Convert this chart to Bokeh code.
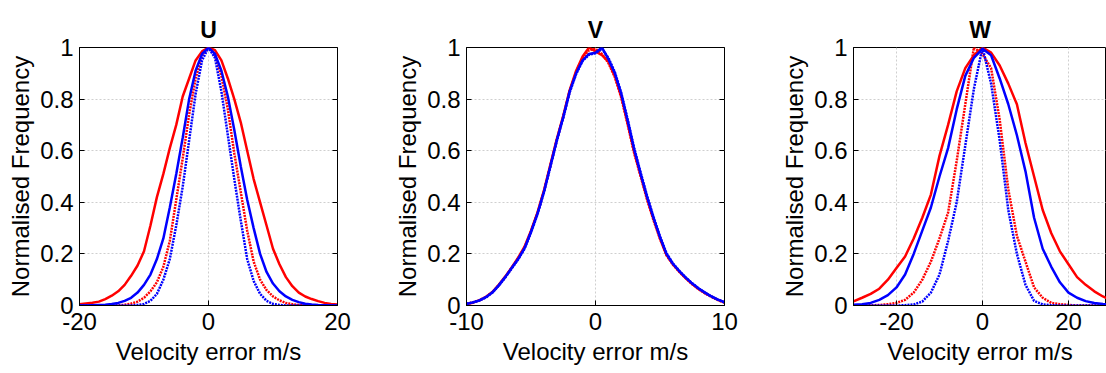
from bokeh.plotting import figure
from bokeh.layouts import row
from bokeh.models import Range1d, FixedTicker, LinearAxis, CustomJSTickFormatter
from bokeh.embed import file_html
from bokeh.resources import INLINE

FONT = "Liberation Sans"
RED = "#ff0000"
BLUE = "#0000ff"

titles = ["U", "V", "W"]
x_label = "Velocity error m/s"
y_label = "Normalised Frequency"
y_ticks = [0, 0.2, 0.4, 0.6, 0.8, 1]

# ---- U panel ----
u_x = [-20, -19, -18, -17, -16, -15, -14, -13, -12, -11, -10, -9, -8, -7, -6, -5, -4, -3, -2, -1,
       0, 1, 2, 3, 4, 5, 6, 7, 8, 9, 10, 11, 12, 13, 14, 15, 16, 17, 18, 19, 20]
u_red_solid = [0.005, 0.008, 0.011, 0.015, 0.025, 0.038, 0.055, 0.08, 0.115, 0.155, 0.21, 0.31, 0.42, 0.51, 0.61, 0.70, 0.81, 0.88, 0.95, 0.985,
               1.0, 0.99, 0.95, 0.88, 0.80, 0.71, 0.60, 0.49, 0.40, 0.31, 0.22, 0.16, 0.11, 0.075, 0.05, 0.035, 0.025, 0.017, 0.01, 0.006, 0.004]
u_blue_solid = [0, 0, 0.001, 0.002, 0.003, 0.006, 0.01, 0.018, 0.03, 0.05, 0.08, 0.12, 0.18, 0.26, 0.38, 0.51, 0.65, 0.80, 0.91, 0.975,
                1.0, 0.975, 0.91, 0.81, 0.68, 0.54, 0.41, 0.30, 0.20, 0.13, 0.085, 0.055, 0.035, 0.022, 0.013, 0.007, 0.004, 0.002, 0.001, 0, 0]
u_red_dotted = [0, 0, 0, 0, 0, 0, 0, 0.003, 0.007, 0.015, 0.03, 0.055, 0.09, 0.15, 0.25, 0.41, 0.57, 0.74, 0.88, 0.97,
                1.0, 0.97, 0.89, 0.76, 0.59, 0.44, 0.29, 0.17, 0.10, 0.06, 0.035, 0.02, 0.01, 0.005, 0.002, 0, 0, 0, 0, 0, 0]
u_blue_dotted = [0, 0, 0, 0, 0, 0, 0, 0, 0, 0.002, 0.006, 0.018, 0.045, 0.10, 0.18, 0.31, 0.46, 0.64, 0.82, 0.95,
                 1.0, 0.96, 0.83, 0.66, 0.49, 0.33, 0.18, 0.095, 0.045, 0.018, 0.006, 0.002, 0, 0, 0, 0, 0, 0, 0, 0, 0]

# ---- V panel ----
v_x = [-10, -9.5, -9, -8.5, -8, -7.5, -7, -6.5, -6, -5.5, -5, -4.5, -4, -3.5, -3, -2.5, -2, -1.5, -1, -0.5,
       0, 0.5, 1, 1.5, 2, 2.5, 3, 3.5, 4, 4.5, 5, 5.5, 6, 6.5, 7, 7.5, 8, 8.5, 9, 9.5, 10]
v_red_solid = [0.006, 0.011, 0.02, 0.033, 0.052, 0.08, 0.112, 0.147, 0.185, 0.228, 0.29, 0.36, 0.445, 0.545, 0.645, 0.735, 0.835, 0.91, 0.965, 1.0,
               0.985, 0.97, 0.945, 0.89, 0.81, 0.705, 0.595, 0.505, 0.415, 0.335, 0.26, 0.197, 0.16, 0.131, 0.106, 0.083, 0.064, 0.048, 0.034, 0.022, 0.012]
v_blue_solid = [0.006, 0.012, 0.02, 0.032, 0.05, 0.078, 0.11, 0.145, 0.18, 0.222, 0.285, 0.355, 0.44, 0.54, 0.64, 0.73, 0.83, 0.90, 0.95, 0.975,
                0.98, 1.0, 0.955, 0.90, 0.82, 0.715, 0.605, 0.51, 0.42, 0.34, 0.265, 0.2, 0.162, 0.133, 0.108, 0.085, 0.066, 0.05, 0.035, 0.023, 0.013]
v_red_dotted = [0.006, 0.012, 0.021, 0.033, 0.051, 0.079, 0.11, 0.146, 0.183, 0.225, 0.288, 0.358, 0.442, 0.542, 0.642, 0.732, 0.832, 0.905, 0.96, 0.99,
                0.995, 0.975, 0.94, 0.885, 0.805, 0.70, 0.59, 0.50, 0.41, 0.33, 0.258, 0.195, 0.158, 0.13, 0.105, 0.082, 0.063, 0.047, 0.033, 0.021, 0.011]
v_blue_dotted = [0.007, 0.012, 0.019, 0.031, 0.05, 0.077, 0.108, 0.143, 0.178, 0.22, 0.283, 0.353, 0.438, 0.537, 0.638, 0.728, 0.826, 0.897, 0.948, 0.972,
                 0.978, 0.995, 0.96, 0.905, 0.823, 0.72, 0.61, 0.515, 0.425, 0.343, 0.268, 0.203, 0.163, 0.134, 0.108, 0.086, 0.066, 0.049, 0.034, 0.022, 0.012]

# ---- W panel ----
w_x = [-30, -28, -26, -24, -22, -20, -18, -16, -14, -12, -10, -8, -6, -4, -2,
       0, 2, 4, 6, 8, 10, 12, 14, 16, 18, 20, 22, 24, 26, 28, 30]
w_red_solid = [0.016, 0.03, 0.045, 0.065, 0.10, 0.145, 0.19, 0.26, 0.34, 0.43, 0.58, 0.70, 0.83, 0.92, 0.97,
               1.0, 0.98, 0.93, 0.86, 0.78, 0.63, 0.50, 0.37, 0.28, 0.21, 0.16, 0.11, 0.08, 0.055, 0.035, 0.02]
w_blue_solid = [0.003, 0.005, 0.01, 0.022, 0.04, 0.07, 0.12, 0.20, 0.29, 0.38, 0.50, 0.61, 0.76, 0.89, 0.96,
                0.995, 0.97, 0.88, 0.78, 0.66, 0.52, 0.34, 0.22, 0.15, 0.09, 0.05, 0.03, 0.017, 0.01, 0.006, 0.004]
w_red_dotted = [0, 0, 0.001, 0.002, 0.005, 0.01, 0.022, 0.05, 0.10, 0.17, 0.26, 0.36, 0.56, 0.78, 1.0,
                0.975, 0.92, 0.72, 0.45, 0.27, 0.17, 0.07, 0.03, 0.01, 0.005, 0.002, 0, 0, 0, 0, 0]
w_blue_dotted = [0, 0, 0, 0, 0, 0, 0.001, 0.004, 0.015, 0.05, 0.12, 0.25, 0.40, 0.62, 0.84,
                 1.0, 0.86, 0.64, 0.37, 0.20, 0.08, 0.018, 0.004, 0.001, 0, 0, 0, 0, 0, 0, 0]

panels = [
    dict(title=titles[0], xr=(-20, 20), xt=[-20, 0, 20], x=u_x,
         series=[u_red_solid, u_red_dotted, u_blue_solid, u_blue_dotted],
         width=387, left=79, right=50, raxis=True),
    dict(title=titles[1], xr=(-10, 10), xt=[-10, 0, 10], x=v_x,
         series=[v_red_solid, v_red_dotted, v_blue_solid, v_blue_dotted],
         width=387, left=79, right=50, raxis=True),
    dict(title=titles[2], xr=(-30, 28.84), xt=[-20, 0, 20], x=w_x,
         series=[w_red_solid, w_red_dotted, w_blue_solid, w_blue_dotted],
         width=332, left=79, right=0, raxis=False),
]
styles = [(RED, None), (RED, "2 1"), (BLUE, None), (BLUE, "2 1")]

FS = "24px"
fmt_code = "return String(tick);"
figs = []
for pd_ in panels:
    p = figure(width=pd_["width"], height=373, x_range=Range1d(*pd_["xr"]), y_range=Range1d(0, 1),
               output_backend="svg", toolbar_location=None, title=pd_["title"],
               min_border_left=pd_["left"], min_border_right=pd_["right"],
               min_border_top=47, min_border_bottom=68)
    p.title.text_font = FONT
    p.title.text_font_size = "23px"
    p.title.text_font_style = "bold"
    p.title.text_color = "black"
    p.title.align = "center"
    p.title.standoff = 10
    p.outline_line_color = "black"
    p.outline_line_width = 1
    p.outline_line_alpha = 1
    p.background_fill_color = "white"
    p.border_fill_color = "white"

    for ax in (p.xaxis[0], p.yaxis[0]):
        ax.major_label_text_font = FONT
        ax.major_label_text_font_size = FS
        ax.major_label_text_color = "black"
        ax.axis_label_text_font = FONT
        ax.axis_label_text_font_size = FS
        ax.axis_label_text_font_style = "normal"
        ax.axis_label_text_color = "black"
        ax.major_tick_in = 5
        ax.major_tick_out = 0
        ax.minor_tick_line_color = None
        ax.axis_line_color = "black"
        ax.major_tick_line_color = "black"
        ax.formatter = CustomJSTickFormatter(code=fmt_code)
    p.xaxis.ticker = FixedTicker(ticks=pd_["xt"])
    p.yaxis.ticker = FixedTicker(ticks=y_ticks)
    p.xaxis.axis_label = x_label
    p.yaxis.axis_label = y_label
    p.xaxis.major_label_standoff = 7
    p.xaxis.axis_label_standoff = 5
    p.yaxis.major_label_standoff = 6
    p.yaxis.axis_label_standoff = 3

    p.xgrid.ticker = FixedTicker(ticks=pd_["xt"])
    p.ygrid.ticker = FixedTicker(ticks=y_ticks)
    for g in (p.xgrid[0], p.ygrid[0]):
        g.grid_line_color = "#cfcfcf"
        g.grid_line_dash = "2 2"
        g.grid_line_width = 1

    if pd_["raxis"]:
        ra = LinearAxis(ticker=FixedTicker(ticks=y_ticks),
                        formatter=CustomJSTickFormatter(code="return '';"),
                        major_tick_in=5, major_tick_out=0, axis_line_color=None,
                        minor_tick_line_color=None, major_tick_line_color="black")
        p.add_layout(ra, "right")

    for ys, (col, dash) in zip(pd_["series"], styles):
        if dash is None:
            p.line(pd_["x"], ys, line_color=col, line_width=2.5)
        else:
            p.line(pd_["x"], ys, line_color=col, line_width=2.5, line_dash=dash)
    figs.append(p)

layout = row(*figs)
open("out.html", "w").write(file_html(layout, INLINE))
